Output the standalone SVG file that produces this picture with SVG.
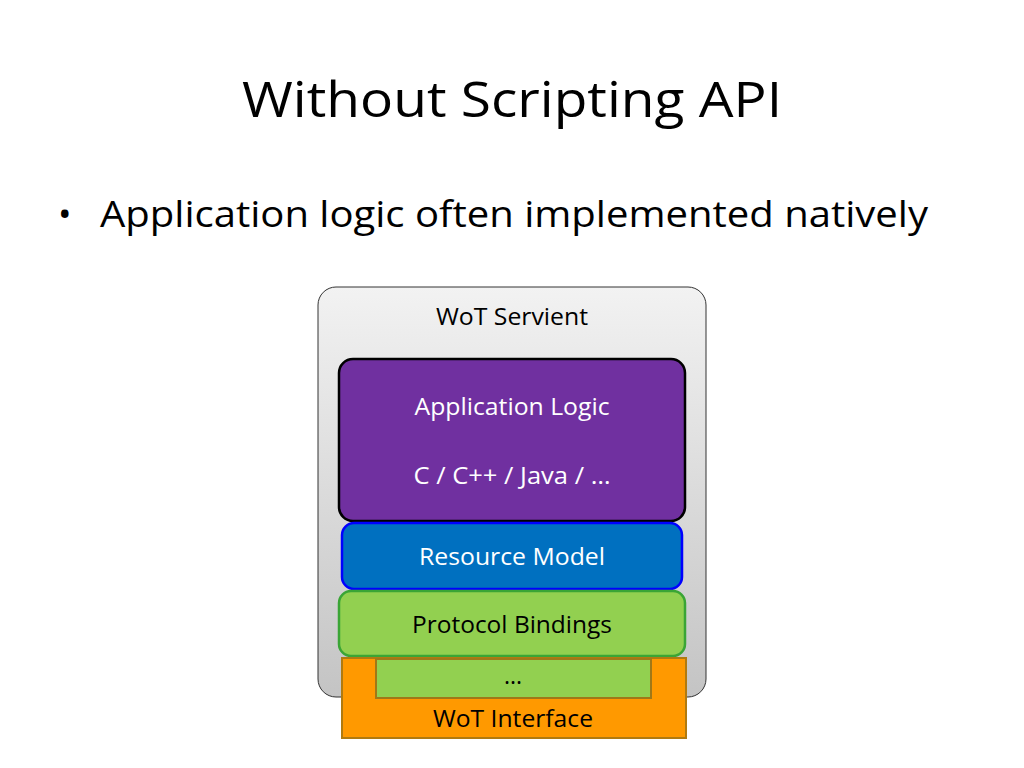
<svg xmlns="http://www.w3.org/2000/svg" width="1024" height="768" viewBox="0 0 1024 768">
<defs>
<linearGradient id="g" x1="0" y1="0" x2="0" y2="1"><stop offset="0" stop-color="#f2f2f2"/><stop offset="1" stop-color="#c4c4c4"/></linearGradient>
</defs>
<style>
text{font-family:"Open Sans","Liberation Sans",sans-serif;text-anchor:middle}
.s{font-size:23px}
</style>
<rect width="1024" height="768" fill="#fff"/>
<text x="512" y="117" font-size="50" style="font-family:'Open Sans',sans-serif" textLength="540" lengthAdjust="spacingAndGlyphs">Without Scripting API</text>
<text x="58" y="227" font-size="36" style="text-anchor:start">•</text>
<text x="100" y="227" font-size="36" style="text-anchor:start" textLength="828" lengthAdjust="spacingAndGlyphs">Application logic often implemented natively</text>
<g id="servient"><rect x="318" y="287" width="388" height="410" rx="18" fill="url(#g)" stroke="#333" stroke-width="1"/><text class="s" x="512" y="325" textLength="152" lengthAdjust="spacingAndGlyphs">WoT Servient</text></g>
<g id="app"><rect x="339" y="359" width="346" height="162" rx="14" fill="#7030A0" stroke="#000" stroke-width="2.5"/><text class="s" x="512" y="415" fill="#fff" textLength="195" lengthAdjust="spacingAndGlyphs">Application Logic</text><text class="s" x="512" y="484" fill="#fff" textLength="197" lengthAdjust="spacingAndGlyphs">C / C++ / Java / …</text></g>
<g id="resource"><rect x="342" y="523" width="340" height="66" rx="12" fill="#0070C0" stroke="#0000FF" stroke-width="2.5"/><text class="s" x="512" y="565" fill="#fff" textLength="186" lengthAdjust="spacingAndGlyphs">Resource Model</text></g>
<g id="protocol"><rect x="339" y="591" width="346" height="65" rx="12" fill="#92D050" stroke="#3AA535" stroke-width="2.5"/><text class="s" x="512" y="633" textLength="200" lengthAdjust="spacingAndGlyphs">Protocol Bindings</text></g>
<g id="wot"><rect x="342" y="658" width="344" height="80" fill="#FF9900" stroke="#B07A10" stroke-width="2"/><text class="s" x="513" y="727" textLength="160" lengthAdjust="spacingAndGlyphs">WoT Interface</text></g>
<g id="dots"><rect x="376" y="659" width="275" height="39" fill="#92D050" stroke="#A07818" stroke-width="2"/><text class="s" x="513" y="684">...</text></g>
<g id="connectors"/>
</svg>
